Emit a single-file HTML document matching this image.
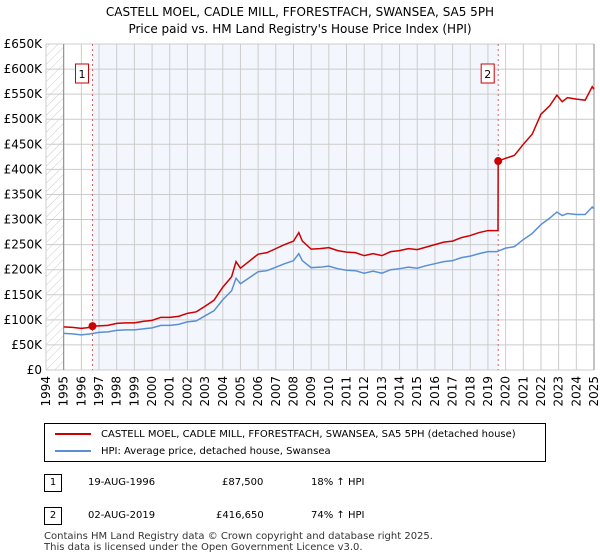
<!DOCTYPE html>
<html><head><meta charset="utf-8"><style>
body{margin:0;background:#fff;font-family:"DejaVu Sans","Liberation Sans",sans-serif;}
#wrap{position:relative;width:600px;height:560px;overflow:hidden;}
.t{position:absolute;font-size:11px;color:#000;}
</style></head><body>
<div id="wrap">
<svg id="chart" width="600" height="420" style="position:absolute;left:0;top:0;font-family:'DejaVu Sans',sans-serif"></svg>
<div style="position:absolute;left:44px;top:423px;width:502px;height:39px;border:1px solid #000;box-sizing:border-box;font-size:10px;">
 <div style="position:absolute;left:10px;top:5px;white-space:nowrap"><span style="display:inline-block;width:36px;height:2px;background:#cc0000;vertical-align:middle;margin-right:10px"></span>CASTELL MOEL, CADLE MILL, FFORESTFACH, SWANSEA, SA5 5PH (detached house)</div>
 <div style="position:absolute;left:10px;top:22px;white-space:nowrap"><span style="display:inline-block;width:36px;height:2px;background:#5b8fd4;vertical-align:middle;margin-right:10px"></span>HPI: Average price, detached house, Swansea</div>
</div>
<div>
 <div class="t" style="left:44px;top:474px;width:18px;height:18px;border:1px solid #000;box-sizing:border-box;text-align:center;line-height:16px;font-size:10px">1</div>
 <div class="t" style="left:88px;top:477px;font-size:10px">19-AUG-1996</div>
 <div class="t" style="left:222px;top:477px;font-size:10px">£87,500</div>
 <div class="t" style="left:311px;top:477px;font-size:10px">18% ↑ HPI</div>
</div>
<div>
 <div class="t" style="left:44px;top:507px;width:18px;height:18px;border:1px solid #000;box-sizing:border-box;text-align:center;line-height:16px;font-size:10px">2</div>
 <div class="t" style="left:88px;top:510px;font-size:10px">02-AUG-2019</div>
 <div class="t" style="left:216px;top:510px;font-size:10px">£416,650</div>
 <div class="t" style="left:311px;top:510px;font-size:10px">74% ↑ HPI</div>
</div>
<div class="t" style="left:44px;top:531px;font-size:10px;line-height:11px;color:#333">Contains HM Land Registry data © Crown copyright and database right 2025.<br>This data is licensed under the Open Government Licence v3.0.</div>
</div>
<script>
const hpiYears=[1995,1995.5,1996,1996.5,1997,1997.5,1998,1998.5,1999,1999.5,2000,2000.5,2001,2001.5,2002,2002.5,2003,2003.5,2004,2004.5,2004.75,2005,2005.5,2006,2006.5,2007,2007.5,2008,2008.3,2008.5,2009,2009.5,2010,2010.5,2011,2011.5,2012,2012.5,2013,2013.5,2014,2014.5,2015,2015.5,2016,2016.5,2017,2017.5,2018,2018.5,2019,2019.5,2020,2020.5,2021,2021.5,2022,2022.5,2022.9,2023.2,2023.5,2024,2024.5,2024.9,2025];
const hpiValues=[73,72,70,72,75,76,79,80,80,82,84,89,89,91,96,98,108,118,140,158,183,172,184,196,198,205,212,218,232,218,204,205,207,202,199,198,193,197,193,200,202,205,203,208,212,216,218,224,227,232,236,236,243,246,260,272,290,303,315,308,312,310,310,325,322];
const priceYears=[1995,1995.5,1996,1996.5,1996.63,1997,1997.5,1998,1998.5,1999,1999.5,2000,2000.5,2001,2001.5,2002,2002.5,2003,2003.5,2004,2004.5,2004.75,2005,2005.5,2006,2006.5,2007,2007.5,2008,2008.3,2008.5,2009,2009.5,2010,2010.5,2011,2011.5,2012,2012.5,2013,2013.5,2014,2014.5,2015,2015.5,2016,2016.5,2017,2017.5,2018,2018.5,2019,2019.5,2019.57,2019.58,2020,2020.5,2021,2021.5,2022,2022.5,2022.9,2023.2,2023.5,2024,2024.5,2024.9,2025];
const priceValues=[86,85,83,85,87.5,88,89,93,94,94,97,99,105,105,107,113,116,127,139,165,186,216,203,217,231,234,242,250,257,274,257,241,242,244,238,235,234,228,232,228,236,238,242,240,245,250,255,257,264,268,274,278,278,278,416.65,422,428,450,470,510,527,548,535,543,540,538,565,560];
const sales=[{n:'1',year:1996.63,value:87.5},{n:'2',year:2019.58,value:416.65}];
const yTicks=[0,50,100,150,200,250,300,350,400,450,500,550,600,650];
const yTickLabels=['£0','£50K','£100K','£150K','£200K','£250K','£300K','£350K','£400K','£450K','£500K','£550K','£600K','£650K'];
const xTicks=[1994,1995,1996,1997,1998,1999,2000,2001,2002,2003,2004,2005,2006,2007,2008,2009,2010,2011,2012,2013,2014,2015,2016,2017,2018,2019,2020,2021,2022,2023,2024,2025];

const L=46,R=594,T=44,B=370;
const x=v=>L+(v-1994)/(2025-1994)*(R-L);
const y=v=>B-v/650*(B-T);
const svg=document.getElementById('chart');
const NS='http://www.w3.org/2000/svg';
function mk(tag,attrs){const e=document.createElementNS(NS,tag);for(const k in attrs)e.setAttribute(k,attrs[k]);svg.appendChild(e);return e;}
let defs=document.createElementNS(NS,'defs');
defs.innerHTML='<pattern id="hatch" width="6" height="6" patternUnits="userSpaceOnUse" patternTransform="rotate(45)"><line x1="0" y1="0" x2="0" y2="6" stroke="#ccc" stroke-width="1"/></pattern>';
svg.appendChild(defs);
let e;
e=mk('text',{x:300,y:16,'text-anchor':'middle','font-size':'12'});e.textContent='CASTELL MOEL, CADLE MILL, FFORESTFACH, SWANSEA, SA5 5PH';

e=mk('text',{x:300,y:33,'text-anchor':'middle','font-size':'12'});e.textContent="Price paid vs. HM Land Registry's House Price Index (HPI)";

e=mk('rect',{x:L,y:T,width:x(1995)-L,height:B-T,fill:'url(#hatch)'});

e=mk('rect',{x:x(sales[0].year),y:T,width:x(sales[1].year)-x(sales[0].year),height:B-T,fill:'#f3f6fd'});

yTicks.forEach((t,i)=>{
 e=mk('line',{x1:L,x2:R,y1:y(t),y2:y(t),stroke:'#ccc','stroke-width':1});
 
 e=mk('text',{x:L-4,y:y(t)+4,'text-anchor':'end','font-size':'12'});e.textContent=yTickLabels[i];
 
});
xTicks.forEach(t=>{
 e=mk('line',{x1:x(t),x2:x(t),y1:T,y2:B,stroke:'#ccc','stroke-width':1});
 
 e=mk('text',{x:0,y:0,'text-anchor':'end','font-size':'12',transform:`translate(${x(t)+4},${B+6}) rotate(-90)`});e.textContent=t;
 
});
e=mk('line',{x1:x(1995),x2:x(1995),y1:T,y2:B,stroke:'#888','stroke-width':1});

e=mk('line',{x1:R,x2:R,y1:T,y2:B,stroke:'#888','stroke-width':1});

sales.forEach(s=>{
 e=mk('line',{x1:x(s.year),x2:x(s.year),y1:T,y2:B,stroke:'#e06060','stroke-width':1,'stroke-dasharray':'2,3'});
 
});
e=mk('polyline',{points:hpiYears.map((t,i)=>x(t)+','+y(hpiValues[i])).join(' '),fill:'none',stroke:'#5b8fd4','stroke-width':1.5});

e=mk('polyline',{points:priceYears.map((t,i)=>x(t)+','+y(priceValues[i])).join(' '),fill:'none',stroke:'#cc0000','stroke-width':1.5});

sales.forEach(s=>{
 e=mk('circle',{cx:x(s.year),cy:y(s.value),r:4,fill:'#cc0000'});
 
 const bx=x(s.year)-3;
 e=mk('rect',{x:bx-14,y:64,width:13,height:19,fill:'#fff',stroke:'#cc0000','stroke-width':1});
 
 e=mk('text',{x:bx-7.5,y:78,'text-anchor':'middle','font-size':'11'});e.textContent=s.n;
 
});
</script>
</body></html>
